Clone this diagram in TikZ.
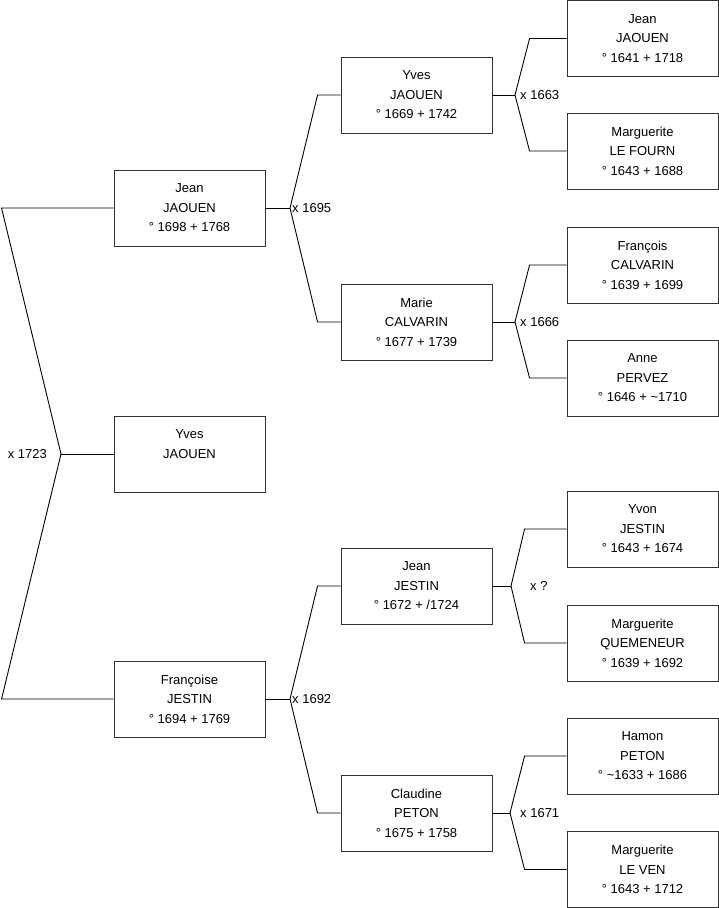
\documentclass[tikz,border=0pt]{standalone}
\usepackage{fontspec}
\setmainfont{Liberation Sans}
\usetikzlibrary{positioning}

\tikzset{
  person/.style={draw=black!80, line width=0.9pt, rectangle, minimum width=151pt, minimum height=76pt,
    inner sep=0pt, align=center, font=\fontsize{13}{19.5}\selectfont},
  link/.style={draw=black, line width=0.9pt},
  wed/.style={font=\fontsize{13}{15}\selectfont, inner sep=1pt}
}

\begin{document}
\begin{tikzpicture}[x=1pt,y=-1pt]
\useasboundingbox (0,0) rectangle (719,908);

% generation 1
\node[person] (jean1)  at (189.5,208) {Jean\\JAOUEN\\° 1698 + 1768};
\node[person] (yves0)  at (189.5,454) {Yves\\JAOUEN\\\mbox{}};
\node[person] (franc1) at (189.5,699) {Françoise\\JESTIN\\° 1694 + 1769};

% generation 2
\node[person] (yves2)   at (416.5,95)  {Yves\\JAOUEN\\° 1669 + 1742};
\node[person] (marie2)  at (416.5,322) {Marie\\CALVARIN\\° 1677 + 1739};
\node[person] (jean2)   at (416.5,586) {Jean\\JESTIN\\° 1672 + /1724};
\node[person] (claud2)  at (416.5,813) {Claudine\\PETON\\° 1675 + 1758};

% generation 3
\node[person] (jean3)   at (642.5,38.5) {Jean\\JAOUEN\\° 1641 + 1718};
\node[person] (marg3a)  at (642.5,151)  {Marguerite\\LE FOURN\\° 1643 + 1688};
\node[person] (franc3)  at (642.5,265)  {François\\CALVARIN\\° 1639 + 1699};
\node[person] (anne3)   at (642.5,378)  {Anne\\PERVEZ\\° 1646 + \textasciitilde1710};
\node[person] (yvon3)   at (642.5,529)  {Yvon\\JESTIN\\° 1643 + 1674};
\node[person] (marg3b)  at (642.5,643)  {Marguerite\\QUEMENEUR\\° 1639 + 1692};
\node[person] (hamon3)  at (642.5,756)  {Hamon\\PETON\\° \textasciitilde1633 + 1686};
\node[person] (marg3c)  at (642.5,869.5) {Marguerite\\LE VEN\\° 1643 + 1712};

% forks
\coordinate (m0) at (61,454);
\coordinate (m1) at (290,208);
\coordinate (m2) at (290,699);
\coordinate (m3) at (515,95);
\coordinate (m4) at (515,322);
\coordinate (m5) at (511,586);
\coordinate (m6) at (510,813);

\draw[link] (yves0.west) -- (m0);
\draw[link] (m0) -- ([xshift=-112pt]jean1.west) -- (jean1.west);
\draw[link] (m0) -- ([xshift=-112pt]franc1.west) -- (franc1.west);

\draw[link] (jean1.east) -- (m1);
\draw[link] (m1) -- ([xshift=-23pt]yves2.west) -- (yves2.west);
\draw[link] (m1) -- ([xshift=-23pt]marie2.west) -- (marie2.west);
\draw[link] (franc1.east) -- (m2);
\draw[link] (m2) -- ([xshift=-23pt]jean2.west) -- (jean2.west);
\draw[link] (m2) -- ([xshift=-23pt]claud2.west) -- (claud2.west);

\draw[link] (yves2.east) -- (m3);
\draw[link] (m3) -- ([xshift=-37pt]jean3.west) -- (jean3.west);
\draw[link] (m3) -- ([xshift=-37pt]marg3a.west) -- (marg3a.west);
\draw[link] (marie2.east) -- (m4);
\draw[link] (m4) -- ([xshift=-37pt]franc3.west) -- (franc3.west);
\draw[link] (m4) -- ([xshift=-37pt]anne3.west) -- (anne3.west);
\draw[link] (jean2.east) -- (m5);
\draw[link] (m5) -- ([xshift=-42pt]yvon3.west) -- (yvon3.west);
\draw[link] (m5) -- ([xshift=-42pt]marg3b.west) -- (marg3b.west);
\draw[link] (claud2.east) -- (m6);
\draw[link] (m6) -- ([xshift=-42pt]hamon3.west) -- (hamon3.west);
\draw[link] (m6) -- ([xshift=-42pt]marg3c.west) -- (marg3c.west);

% marriages
\node[wed, anchor=east] (w0) at ([xshift=-13pt]m0) {x 1723};
\node[wed, anchor=west] (w1) at ([xshift=1pt]m1) {x 1695};
\node[wed, anchor=west] (w2) at ([xshift=1pt]m2) {x 1692};
\node[wed, anchor=west] (w3) at ([xshift=4pt]m3) {x 1663};
\node[wed, anchor=west] (w4) at ([xshift=4pt]m4) {x 1666};
\node[wed, anchor=west] (w5) at ([xshift=18pt]m5) {x ?};
\node[wed, anchor=west] (w6) at ([xshift=9pt]m6) {x 1671};
\end{tikzpicture}
\end{document}
